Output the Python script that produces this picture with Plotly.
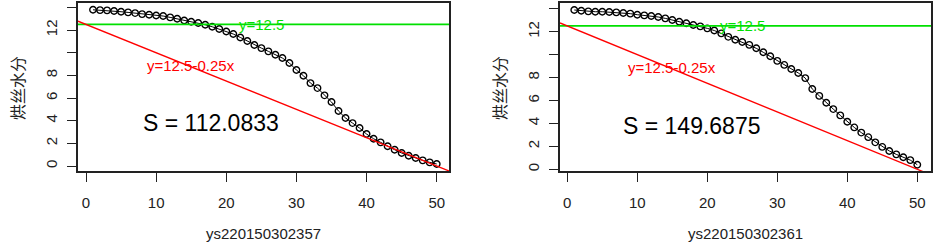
import plotly.graph_objects as go

# ---- data ----
x_vals = list(range(1, 51))
y_left = [13.79, 13.76, 13.74, 13.68, 13.62, 13.56, 13.50, 13.41, 13.35, 13.29,
          13.24, 13.12, 13.00, 12.85, 12.74, 12.62, 12.47, 12.29, 12.09, 11.88,
          11.65, 11.35, 11.03, 10.68, 10.41, 10.12, 9.82, 9.53, 9.09, 8.47,
          7.97, 7.32, 6.88, 6.24, 5.65, 4.85, 4.24, 3.79, 3.35, 2.82,
          2.41, 2.09, 1.74, 1.44, 1.15, 0.91, 0.71, 0.50, 0.32, 0.18]
y_right = [13.89, 13.83, 13.77, 13.74, 13.74, 13.71, 13.68, 13.63, 13.57, 13.48,
           13.42, 13.36, 13.28, 13.16, 13.02, 12.87, 12.73, 12.58, 12.46, 12.29,
           12.10, 11.85, 11.55, 11.30, 11.10, 10.85, 10.55, 10.20, 9.85, 9.45,
           9.10, 8.75, 8.40, 7.95, 7.00, 6.40, 5.80, 5.25, 4.70, 4.15,
           3.65, 3.20, 2.80, 2.35, 1.95, 1.60, 1.30, 1.05, 0.80, 0.40]
panel_titles = ["ys220150302357", "ys220150302361"]
s_labels = ["S = 112.0833", "S = 149.6875"]
h_level = 12.5
intercept = 12.5
slope = -0.25
x_ticks = [0, 10, 20, 30, 40, 50]
y_ticks = [0, 2, 4, 6, 8, 10, 12, 14]
y_ticktext = ["0", "2", "4", "6", "8", "", "12", ""]
y_label = "烘丝水分"

# ---- layout geometry ----
W, H = 937, 245
x_ranges = [[-1.14, 51.75], [-1.04, 51.96]]
y_ranges = [[-0.44, 14.39], [-0.15, 14.5]]
x_domains = [[78 / W, 449 / W], [560 / W, 931 / W]]
y_domain = [74 / H, 242 / H]

GREEN = "#00e000"
RED = "#ff0000"
FONT = "Liberation Sans, Arial, sans-serif"
CJK = "Noto Sans CJK SC, sans-serif"

fig = go.Figure()
series = [y_left, y_right]
for i in range(2):
    xa = "x" if i == 0 else "x2"
    ya = "y" if i == 0 else "y2"
    fig.add_trace(go.Scatter(
        x=x_vals, y=series[i], mode="lines+markers", xaxis=xa, yaxis=ya,
        line=dict(color="black", width=1),
        marker=dict(symbol="circle-open", size=6.5, color="black", line=dict(width=1.4)),
        showlegend=False, hoverinfo="skip"))
    xr = x_ranges[i]
    fig.add_trace(go.Scatter(
        x=[xr[0], xr[1]], y=[h_level, h_level], mode="lines", xaxis=xa, yaxis=ya,
        line=dict(color=GREEN, width=1.8), showlegend=False, hoverinfo="skip"))
    fig.add_trace(go.Scatter(
        x=[xr[0], xr[1]], y=[intercept + slope * xr[0], intercept + slope * xr[1]],
        mode="lines", xaxis=xa, yaxis=ya,
        line=dict(color=RED, width=1.3), showlegend=False, hoverinfo="skip"))

annotations = []
for i in range(2):
    xa = "x" if i == 0 else "x2"
    ya = "y" if i == 0 else "y2"
    annotations.append(dict(x=25, y=12.5, xref=xa, yref=ya, text="y=12.5", showarrow=False,
                            font=dict(family=FONT, size=15, color=GREEN)))
    annotations.append(dict(x=15, y=8.85, xref=xa, yref=ya, text="y=12.5-0.25x", showarrow=False,
                            font=dict(family=FONT, size=15, color=RED)))
    annotations.append(dict(x=17.8, y=3.8, xref=xa, yref=ya, text=s_labels[i], showarrow=False,
                            font=dict(family=FONT, size=23, color="black")))
    # x axis title
    annotations.append(dict(x=(x_domains[i][0] + x_domains[i][1]) / 2, y=(H - 233) / H,
                            xref="paper", yref="paper", text=panel_titles[i], showarrow=False,
                            xanchor="center", yanchor="middle",
                            font=dict(family=FONT, size=15, color="#222")))
    # y axis title
    annotations.append(dict(x=(17 + (482 if i == 1 else 0)) / W, y=(H - 88) / H,
                            xref="paper", yref="paper", text=y_label, showarrow=False, textangle=-90,
                            xanchor="center", yanchor="middle",
                            font=dict(family=CJK, size=16, color="#222")))

axis_common = dict(showline=True, linecolor="#222", linewidth=1.5, mirror=True,
                   showgrid=False, zeroline=False, ticks="outside", ticklen=9,
                   tickwidth=1.2, tickcolor="#222",
                   tickfont=dict(family=FONT, size=15, color="#222"))

layout = dict(width=W, height=H, margin=dict(l=0, r=0, t=0, b=0),
              paper_bgcolor="white", plot_bgcolor="white",
              annotations=annotations)
for i in range(2):
    xk = "xaxis" if i == 0 else "xaxis2"
    yk = "yaxis" if i == 0 else "yaxis2"
    layout[xk] = dict(axis_common, domain=x_domains[i], range=x_ranges[i],
                      tickvals=x_ticks, anchor="y" if i == 0 else "y2",
                      ticklabelstandoff=8)
    layout[yk] = dict(axis_common, domain=y_domain, range=y_ranges[i],
                      tickvals=y_ticks, ticktext=y_ticktext, tickangle=-90,
                      anchor="x" if i == 0 else "x2", ticklabelstandoff=4)
fig.update_layout(**layout)
fig.write_html("out.html", config={"displayModeBar": False},
               post_script="document.body.style.margin='0';document.body.style.overflow='hidden';")
